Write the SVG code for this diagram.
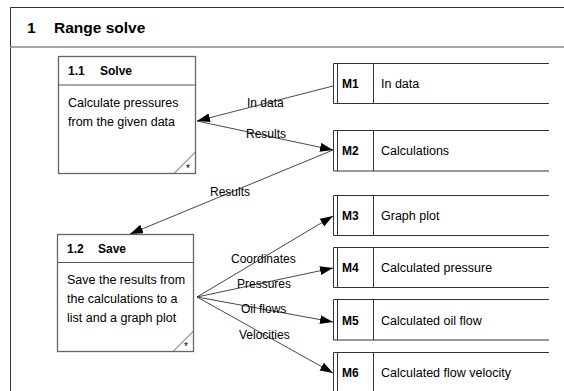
<svg xmlns="http://www.w3.org/2000/svg" width="564" height="391" viewBox="0 0 564 391">
<style>
text{font-family:"Liberation Sans",Arial,sans-serif;fill:#000}
.t{font-size:15.5px;font-weight:bold}
.h{font-size:12px;font-weight:bold}
.b{font-size:12.5px}
.l{font-size:12px}
.s{font-size:10px}
.box{fill:#fff;stroke:#666;stroke-width:1.3}
.ln{stroke:#555;stroke-width:1;fill:none}
.mb{stroke:#333;stroke-width:1;fill:none}
.c{stroke:#333;stroke-width:0.9;fill:none;marker-end:url(#ah)}
</style>
<defs>
<marker id="ah" markerUnits="userSpaceOnUse" markerWidth="14" markerHeight="10" refX="13" refY="4.5" orient="auto">
<path d="M0,0 L13,4.5 L0,9 Z" fill="#000"/>
</marker>
</defs>
<rect width="564" height="391" fill="#fff"/>
<g id="frame">
<path d="M10.5,391 V7.5 H564" class="mb" stroke-width="1.5"/>
<line x1="10" y1="47" x2="564" y2="47" stroke="#888" stroke-width="1.5"/>
<text class="t" x="27" y="33">1</text>
<text class="t" x="54" y="33">Range solve</text>
</g>
<g id="n1_1">
<rect class="box" x="58.5" y="56.5" width="137" height="117"/>
<line class="ln" x1="58.5" y1="85" x2="195.5" y2="85"/>
<line class="ln" x1="174" y1="173.5" x2="195.5" y2="152"/>
<text class="h" x="68" y="75">1.1</text>
<text class="h" x="100" y="75">Solve</text>
<text class="b" x="68" y="107">Calculate pressures</text>
<text class="b" x="68" y="126">from the given data</text>
<text class="s" x="186" y="172">*</text>
</g>
<g id="n1_2">
<rect class="box" x="57.5" y="234.5" width="136" height="117"/>
<line class="ln" x1="57.5" y1="262.5" x2="193.5" y2="262.5"/>
<line class="ln" x1="173" y1="351.5" x2="193.5" y2="331"/>
<text class="h" x="67" y="253">1.2</text>
<text class="h" x="98" y="253">Save</text>
<text class="b" x="67" y="284">Save the results from</text>
<text class="b" x="67" y="303">the calculations to a</text>
<text class="b" x="67" y="322">list and a graph plot</text>
<text class="s" x="184" y="350">*</text>
</g>
<g id="m1">
<path class="mb" d="M549,63.5 H333.5 V103.5 H549 M337.5,63.5 V103.5 M373.5,63.5 V103.5"/>
<text class="h" x="342" y="88">M1</text>
<text class="b" x="381" y="88">In data</text>
</g>
<g id="m2">
<path class="mb" d="M549,130.5 H333.5 V171 H549 M337.5,130.5 V171 M373.5,130.5 V171"/>
<text class="h" x="342" y="155">M2</text>
<text class="b" x="381" y="155">Calculations</text>
</g>
<g id="m3">
<path class="mb" d="M549,195.5 H333.5 V235.5 H549 M337.5,195.5 V235.5 M373.5,195.5 V235.5"/>
<text class="h" x="342" y="220">M3</text>
<text class="b" x="381" y="220">Graph plot</text>
</g>
<g id="m4">
<path class="mb" d="M549,247.5 H333.5 V287.5 H549 M337.5,247.5 V287.5 M373.5,247.5 V287.5"/>
<text class="h" x="342" y="272">M4</text>
<text class="b" x="381" y="272">Calculated pressure</text>
</g>
<g id="m5">
<path class="mb" d="M549,299.5 H333.5 V340 H549 M337.5,299.5 V340 M373.5,299.5 V340"/>
<text class="h" x="342" y="325">M5</text>
<text class="b" x="381" y="325">Calculated oil flow</text>
</g>
<g id="m6">
<path class="mb" d="M549,352.5 H333.5 V392 M337.5,352.5 V392 M373.5,352.5 V392"/>
<text class="h" x="342" y="377">M6</text>
<text class="b" x="381" y="377">Calculated flow velocity</text>
</g>
<g id="connectors">
<line class="c" x1="333" y1="86" x2="197" y2="121"/>
<line class="c" x1="197" y1="121" x2="333" y2="150"/>
<line class="c" x1="333" y1="150" x2="130" y2="234"/>
<line class="c" x1="197" y1="297" x2="333" y2="216"/>
<line class="c" x1="197" y1="297" x2="333" y2="268"/>
<line class="c" x1="197" y1="297" x2="333" y2="322"/>
<line class="c" x1="197" y1="297" x2="333" y2="373"/>
<text class="l" x="247" y="107">In data</text>
<text class="l" x="246" y="138">Results</text>
<text class="l" x="210" y="196">Results</text>
<text class="l" x="231" y="263">Coordinates</text>
<text class="l" x="237" y="288">Pressures</text>
<text class="l" x="241" y="313">Oil flows</text>
<text class="l" x="239" y="339">Velocities</text>
</g>
</svg>
